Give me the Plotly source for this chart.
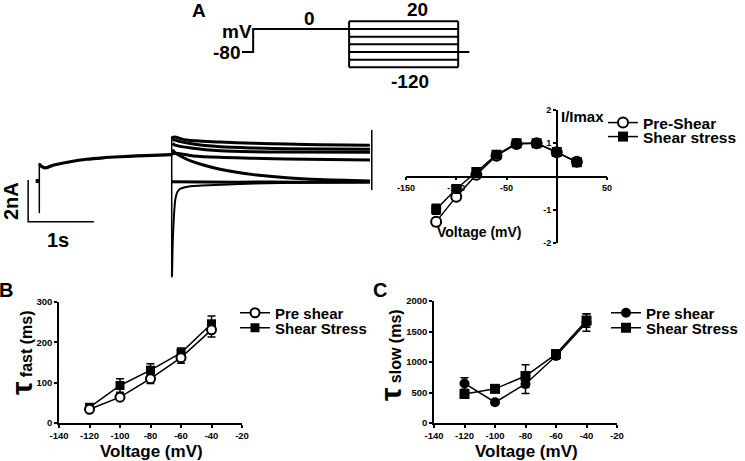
import plotly.graph_objects as go

W, H = 745, 461
FONT = "Liberation Sans, Arial, Helvetica, sans-serif"

# ---------------- data ----------------
# A (top): voltage protocol schematic
proto_t = [0.0, 0.17, 0.17, 1.63]
proto_v = [-80, -80, 0, 0]
test_levels = [27, 0, -27, -53, -80, -107, -133]
test_t0, test_t1, tail_t1 = 1.63, 3.29, 3.46
hold_v = -80

# A (left): current traces, time (s) / current (nA)
pre_spike_t = [0.02, 0.02]
pre_spike_i = [-1.51, 0.90]
pre_t = [0.02, 0.05, 0.11, 0.23, 0.49, 0.74, 0.99, 1.25, 1.50, 1.75, 2.035]
pre_i = [0.85, 0.75, 0.66, 0.79, 0.96, 1.08, 1.15, 1.20, 1.24, 1.27, 1.30]
artifact_t = [-0.005]
artifact_i = [0.03]
step_t = [2.035, 2.035]
step_i = [2.16, -4.60]
end_t = [5.08, 5.08]
end_i = [2.48, -0.40]
a_t = [2.035, 2.07, 2.26, 2.77, 3.28, 3.79, 4.29, 5.05]
a_i = [2.10, 2.15, 2.00, 1.91, 1.85, 1.81, 1.78, 1.75]
b_t = [2.05, 2.085, 2.364, 2.77, 3.277, 3.785, 5.053]
b_i = [2.05, 2.00, 1.81, 1.68, 1.62, 1.59, 1.56]
c_t = [2.05, 2.085, 2.364, 2.77, 3.277, 3.785, 5.053]
c_i = [1.85, 1.76, 1.61, 1.49, 1.44, 1.43, 1.41]
d_t = [2.035, 2.07, 2.364, 2.77, 3.277, 3.785, 5.053]
d_i = [1.30, 1.37, 1.24, 1.17, 1.13, 1.09, 1.04]
e_t = [2.05, 2.07, 2.263, 2.516, 2.77, 3.024, 3.277, 3.785, 4.292, 5.053]
e_i = [1.55, 1.44, 1.08, 0.80, 0.60, 0.45, 0.34, 0.19, 0.10, 0.03]
f_t = [2.040, 2.05, 2.07, 2.09, 2.12, 2.16, 2.25, 2.45, 2.8, 3.3, 4.0, 5.05]
f_i = [-4.55, -3.0, -1.6, -0.85, -0.50, -0.35, -0.25, -0.19, -0.15, -0.09, -0.05, -0.02]
g_t = [2.035, 2.5, 3.5, 4.5, 5.05]
g_i = [0.00, -0.02, -0.02, -0.03, -0.03]
# scale bar (1 s, 2 nA)
sb_t0, sb_i0 = -0.15, -1.92
sb_dt, sb_di = 1.0, 2.0

# A (right): normalised I-V
iv_v = [-120, -100, -80, -60, -40, -20, 0, 20]
iv_pre = [-1.35, -0.60, 0.06, 0.63, 0.98, 1.00, 0.73, 0.45]
iv_pre_err = [0.12, 0.08, 0.04, 0.03, 0.03, 0.03, 0.04, 0.04]
iv_shear = [-0.98, -0.37, 0.14, 0.66, 1.00, 1.00, 0.74, 0.43]
iv_shear_err = [0.15, 0.07, 0.04, 0.03, 0.03, 0.03, 0.04, 0.04]
iv_xticks = [-150, -100, -50, 0, 50]
iv_yticks = [-2, -1, 0, 1, 2]

# B / C: time constants
tau_v = [-120, -100, -80, -60, -40]
fast_pre = [34, 64, 110, 162, 231]
fast_pre_err = [4, 6, 12, 14, 18]
fast_shear = [39, 93, 131, 174, 246]
fast_shear_err = [5, 17, 16, 12, 19]
slow_pre = [648, 340, 640, 1099, 1648]
slow_pre_err = [95, 25, 155, 50, 145]
slow_shear = [475, 560, 770, 1130, 1680]
slow_shear_err = [40, 60, 186, 60, 110]
tau_xticks = [-140, -120, -100, -80, -60, -40, -20]
fast_yticks = [0, 100, 200, 300]
slow_yticks = [0, 500, 1000, 1500, 2000]


# ---------------- helpers ----------------
def xd(x0, x1):
    return [x0 / W, x1 / W]


def yd(y0, y1):
    return [1 - y1 / H, 1 - y0 / H]


def px(x, y):
    return x / W, 1 - y / H


BLACK = "black"
fig = go.Figure()

# ---- protocol ----
fig.add_trace(go.Scatter(x=proto_t, y=proto_v, mode="lines", xaxis="x", yaxis="y",
                         line=dict(color=BLACK, width=2), showlegend=False, hoverinfo="skip"))
bx, by = [], []
for lv in test_levels:
    bx += [test_t0, tail_t1 if lv == hold_v else test_t1, None]
    by += [lv, lv, None]
for tt in (test_t0, test_t1):
    bx += [tt, tt, None]
    by += [max(test_levels), min(test_levels), None]
fig.add_trace(go.Scatter(x=bx, y=by, mode="lines", xaxis="x", yaxis="y",
                         line=dict(color=BLACK, width=2), showlegend=False, hoverinfo="skip"))

# ---- current traces ----
def cur(t, i, w=3.0, shape="spline"):
    fig.add_trace(go.Scatter(x=t, y=i, mode="lines", xaxis="x2", yaxis="y2",
                             line=dict(color=BLACK, width=w, shape=shape, smoothing=0.8),
                             showlegend=False, hoverinfo="skip"))

cur(pre_spike_t, pre_spike_i, 1.5, "linear")
cur(pre_t, pre_i, 3.2)
cur(step_t, step_i, 1.5, "linear")
cur(end_t, end_i, 1.5, "linear")
for tt, ii in ((a_t, a_i), (b_t, b_i), (c_t, c_i), (d_t, d_i), (e_t, e_i), (g_t, g_i)):
    cur(tt, ii, 3.0)
cur(f_t, f_i, 2.0)
fig.add_trace(go.Scatter(x=artifact_t, y=artifact_i, mode="markers", xaxis="x2", yaxis="y2",
                         marker=dict(symbol="square", size=4, color=BLACK),
                         showlegend=False, hoverinfo="skip"))
fig.add_trace(go.Scatter(x=[sb_t0, sb_t0, sb_t0 + sb_dt], y=[sb_i0 + sb_di, sb_i0, sb_i0],
                         mode="lines", xaxis="x2", yaxis="y2",
                         line=dict(color=BLACK, width=1.5), showlegend=False, hoverinfo="skip"))

# ---- IV ----
EB = dict(type="data", color=BLACK, thickness=1.5, width=4)
fig.add_trace(go.Scatter(x=iv_v, y=iv_pre, name="Pre-Shear", mode="lines+markers",
                         xaxis="x3", yaxis="y3", legend="legend",
                         error_y=dict(EB, array=iv_pre_err),
                         line=dict(color=BLACK, width=1.5),
                         marker=dict(symbol="circle", size=10, color="white",
                                     line=dict(color=BLACK, width=2))))
fig.add_trace(go.Scatter(x=iv_v, y=iv_shear, name="Shear stress", mode="lines+markers",
                         xaxis="x3", yaxis="y3", legend="legend2",
                         error_y=dict(EB, array=iv_shear_err),
                         line=dict(color=BLACK, width=1.5),
                         marker=dict(symbol="square", size=10, color=BLACK)))

# ---- B ----
fig.add_trace(go.Scatter(x=tau_v, y=fast_shear, name="Shear Stress", mode="lines+markers",
                         xaxis="x4", yaxis="y4", legend="legend4",
                         error_y=dict(EB, array=fast_shear_err),
                         line=dict(color=BLACK, width=1.5),
                         marker=dict(symbol="square", size=9, color=BLACK)))
fig.add_trace(go.Scatter(x=tau_v, y=fast_pre, name="Pre shear", mode="lines+markers",
                         xaxis="x4", yaxis="y4", legend="legend3",
                         error_y=dict(EB, array=fast_pre_err),
                         line=dict(color=BLACK, width=1.5),
                         marker=dict(symbol="circle", size=9, color="white",
                                     line=dict(color=BLACK, width=2))))

# ---- C ----
fig.add_trace(go.Scatter(x=tau_v, y=slow_pre, name="Pre shear", mode="lines+markers",
                         xaxis="x5", yaxis="y5", legend="legend5",
                         error_y=dict(EB, array=slow_pre_err),
                         line=dict(color=BLACK, width=1.5),
                         marker=dict(symbol="circle", size=10, color=BLACK)))
fig.add_trace(go.Scatter(x=tau_v, y=slow_shear, name="Shear Stress", mode="lines+markers",
                         xaxis="x5", yaxis="y5", legend="legend6",
                         error_y=dict(EB, array=slow_shear_err),
                         line=dict(color=BLACK, width=1.5),
                         marker=dict(symbol="square", size=10, color=BLACK)))

# ---------------- axes ----------------
hidden = dict(visible=False, showgrid=False, zeroline=False, fixedrange=True,
              automargin=False)
TF = dict(family=FONT, size=9.5, color=BLACK, weight="bold")
common = dict(showline=True, linecolor=BLACK, linewidth=1.5, ticks="outside",
              ticklen=3, tickwidth=1.5, tickcolor=BLACK, showgrid=False,
              zeroline=False, tickfont=TF, tickmode="array", automargin=False)

layout = dict(
    template="none",
    width=W, height=H, margin=dict(l=0, r=0, t=0, b=0, autoexpand=False),
    paper_bgcolor="white", plot_bgcolor="rgba(0,0,0,0)",
    xaxis=dict(hidden, domain=xd(200, 480), range=[-0.639, 3.622], anchor="y"),
    yaxis=dict(hidden, domain=yd(0, 100), range=[-247, 100.9], anchor="x"),
    xaxis2=dict(hidden, domain=xd(20, 380), range=[-0.274, 5.205], anchor="y2"),
    yaxis2=dict(hidden, domain=yd(125, 290), range=[-5.207, 2.726], anchor="x2"),
    xaxis3=dict(common, domain=xd(406, 607), range=[-150, 50], anchor="free",
                position=1 - 176.65 / H, tickvals=iv_xticks,
                ticktext=["" if v == 0 else str(v) for v in iv_xticks],
                tickfont=dict(TF, size=9)),
    yaxis3=dict(common, domain=yd(110, 243.3), range=[-2, 2], anchor="free",
                position=556.75 / W, tickvals=iv_yticks,
                ticktext=["" if v == 0 else str(v) for v in iv_yticks],
                tickfont=dict(TF, size=9)),
    xaxis4=dict(common, domain=xd(59, 242), range=[-140, -20], anchor="y4",
                tickvals=tau_xticks, ticktext=[str(v) for v in tau_xticks]),
    yaxis4=dict(common, domain=yd(302, 423), range=[0, 300], anchor="x4",
                tickvals=fast_yticks, ticktext=[str(v) for v in fast_yticks]),
    xaxis5=dict(common, domain=xd(434, 617), range=[-140, -20], anchor="y5",
                tickvals=tau_xticks, ticktext=[str(v) for v in tau_xticks]),
    yaxis5=dict(common, domain=yd(301, 423), range=[0, 2000], anchor="x5",
                tickvals=slow_yticks, ticktext=[str(v) for v in slow_yticks]),
)

# legends (one per entry so rows can be placed exactly)
def leg(text_x, row_y, size=15):
    return dict(x=(text_x - 42) / W, xanchor="left", y=1 - row_y / H, yanchor="middle",
                bgcolor="rgba(0,0,0,0)", borderwidth=0,
                font=dict(family=FONT, size=size, color=BLACK, weight="bold"))

layout["legend"] = leg(645, 123, 15.5)
layout["legend2"] = leg(645, 137, 15.5)
layout["legend3"] = leg(277, 313)
layout["legend4"] = leg(277, 328)
layout["legend5"] = leg(648, 313)
layout["legend6"] = leg(648, 328)

fig.update_layout(**layout)

# ---------------- annotations ----------------
def ann(text, x, y, size, xanchor="center", angle=0):
    ax, ay = px(x, y)
    fig.add_annotation(text=text, x=ax, y=ay, xref="paper", yref="paper",
                       xanchor=xanchor, yanchor="middle", showarrow=False,
                       textangle=angle, borderpad=0,
                       font=dict(family=FONT, size=size, color=BLACK, weight="bold"))

ann("A", 199, 10.5, 19)
ann("B", 6.5, 290, 20)
ann("C", 380, 290, 20)
ann("mV", 253, 31.5, 19, xanchor="right")
ann("-80", 241, 53, 19, xanchor="right")
ann("0", 309, 18.5, 19)
ann("20", 417, 10, 19)
ann("-120", 410, 81.5, 19)
ann("1s", 58, 240, 20)
ann("2nA", 11, 201, 20, angle=-90)
ann("I/Imax", 560, 117, 15, xanchor="left")
ann("Voltage (mV)", 480, 232, 14)
ann("Voltage (mV)", 151, 451.5, 17)
ann("Voltage (mV)", 526, 451.5, 17)
ann("<span style='font-size:30px'>τ</span> fast (ms)", 21, 353, 16, angle=-90)
ann("<span style='font-size:30px'>τ</span> slow (ms)", 390, 355, 16, angle=-90)

fig.write_html("out.html", config={"displayModeBar": False},
               post_script="document.body.style.margin='0px';")
